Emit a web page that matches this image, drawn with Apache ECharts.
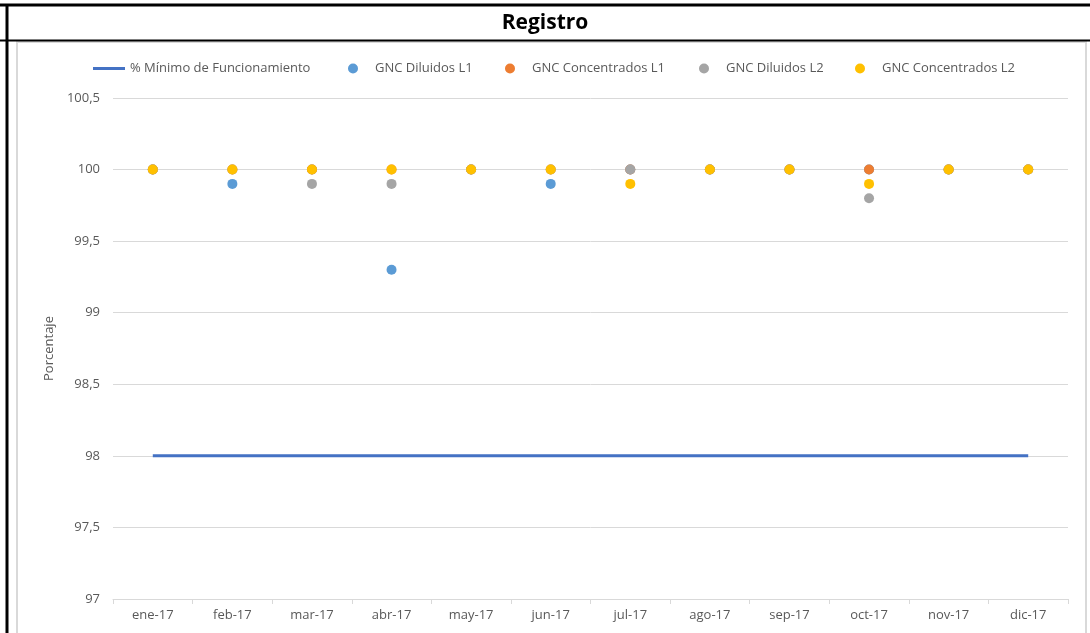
<!DOCTYPE html>
<html><head><meta charset="utf-8">
<script src="https://cdn.jsdelivr.net/npm/echarts@6/dist/echarts.min.js"></script>
<style>html,body{margin:0;padding:0;background:#fff}#c{width:1090px;height:633px}</style>
</head><body><div id="c"></div>
<script>
const categories = ['ene-17','feb-17','mar-17','abr-17','may-17','jun-17','jul-17','ago-17','sep-17','oct-17','nov-17','dic-17'];
const minimo = [98,98,98,98,98,98,98,98,98,98,98,98];
const dilL1 = [100,99.9,100,99.3,100,99.9,100,100,100,100,100,100];
const concL1 = [100,100,100,100,100,100,100,100,100,100,100,100];
const dilL2 = [100,100,99.9,99.9,100,100,100,100,100,99.8,100,100];
const concL2 = [100,100,100,100,100,100,99.9,100,100,99.9,100,100];
const yTicks = {min:97, max:100.5, interval:0.5};
const seriesNames = ['% Mínimo de Funcionamiento','GNC Diluidos L1','GNC Concentrados L1','GNC Diluidos L2','GNC Concentrados L2'];
const colors = ['#4472C4','#5B9BD5','#ED7D31','#A5A5A5','#FFC000'];

const font = 'Open Sans';
const chart = echarts.init(document.getElementById('c'));
const scatter = (i, data) => ({
  name:seriesNames[i], type:'scatter', data, symbol:'circle', symbolSize:10,
  itemStyle:{color:colors[i], opacity:1}, z:3
});
const legendText = {color:'#595959', fontSize:13, fontFamily:font};
const legendLefts = [88, 343, 500, 694, 850];
const legends = seriesNames.map((n, i) => i === 0 ? ({
  top:57, left:legendLefts[i], itemWidth:32, itemHeight:3, textStyle:legendText,
  data:[{name:n, icon:'rect', itemStyle:{color:colors[i]}}]
}) : ({
  top:57, left:legendLefts[i], itemWidth:34, itemHeight:10, textStyle:legendText,
  data:[{name:n, icon:'circle'}]
}));
chart.setOption({
  animation:false,
  textStyle:{fontFamily:font},
  graphic:[
    {type:'rect', shape:{x:17, y:42, width:1069, height:600}, style:{fill:'none', stroke:'#d9d9d9', lineWidth:2}, z:-1},
    {type:'line', shape:{x1:0, y1:5, x2:1090, y2:5}, style:{stroke:'#000', lineWidth:3}},
    {type:'line', shape:{x1:0, y1:40.5, x2:1090, y2:40.5}, style:{stroke:'#000', lineWidth:2}},
    {type:'line', shape:{x1:7, y1:4, x2:7, y2:640}, style:{stroke:'#000', lineWidth:3}},
    {type:'text', left:'center', top:13, style:{text:'Registro', font:'bold 21px "Open Sans"', fill:'#000', textAlign:'center'}}
  ],
  legend:legends,
  grid:{left:113, right:22, top:98, bottom:34},
  xAxis:{
    type:'category', data:categories, boundaryGap:true,
    axisLine:{lineStyle:{color:'#d9d9d9'}},
    axisTick:{show:true, length:5, lineStyle:{color:'#d9d9d9'}},
    axisLabel:{color:'#595959', fontSize:13, margin:10, fontFamily:font}
  },
  yAxis:{
    type:'value', min:yTicks.min, max:yTicks.max, interval:yTicks.interval,
    name:'Porcentaje', nameLocation:'middle', nameGap:52, nameRotate:90,
    nameTextStyle:{color:'#595959', fontSize:13, fontFamily:font},
    axisLine:{show:false}, axisTick:{show:false},
    axisLabel:{color:'#595959', fontSize:13, margin:13, fontFamily:font,
      formatter:v => String(v).replace('.', ',')},
    splitLine:{lineStyle:{color:'#d9d9d9'}}
  },
  series:[
    {name:seriesNames[0], type:'line', data:minimo, symbol:'none',
     lineStyle:{color:colors[0], width:3}, itemStyle:{color:colors[0]}, z:2},
    scatter(1, dilL1),
    scatter(2, concL1),
    scatter(3, dilL2),
    scatter(4, concL2)
  ]
});
</script></body></html>
